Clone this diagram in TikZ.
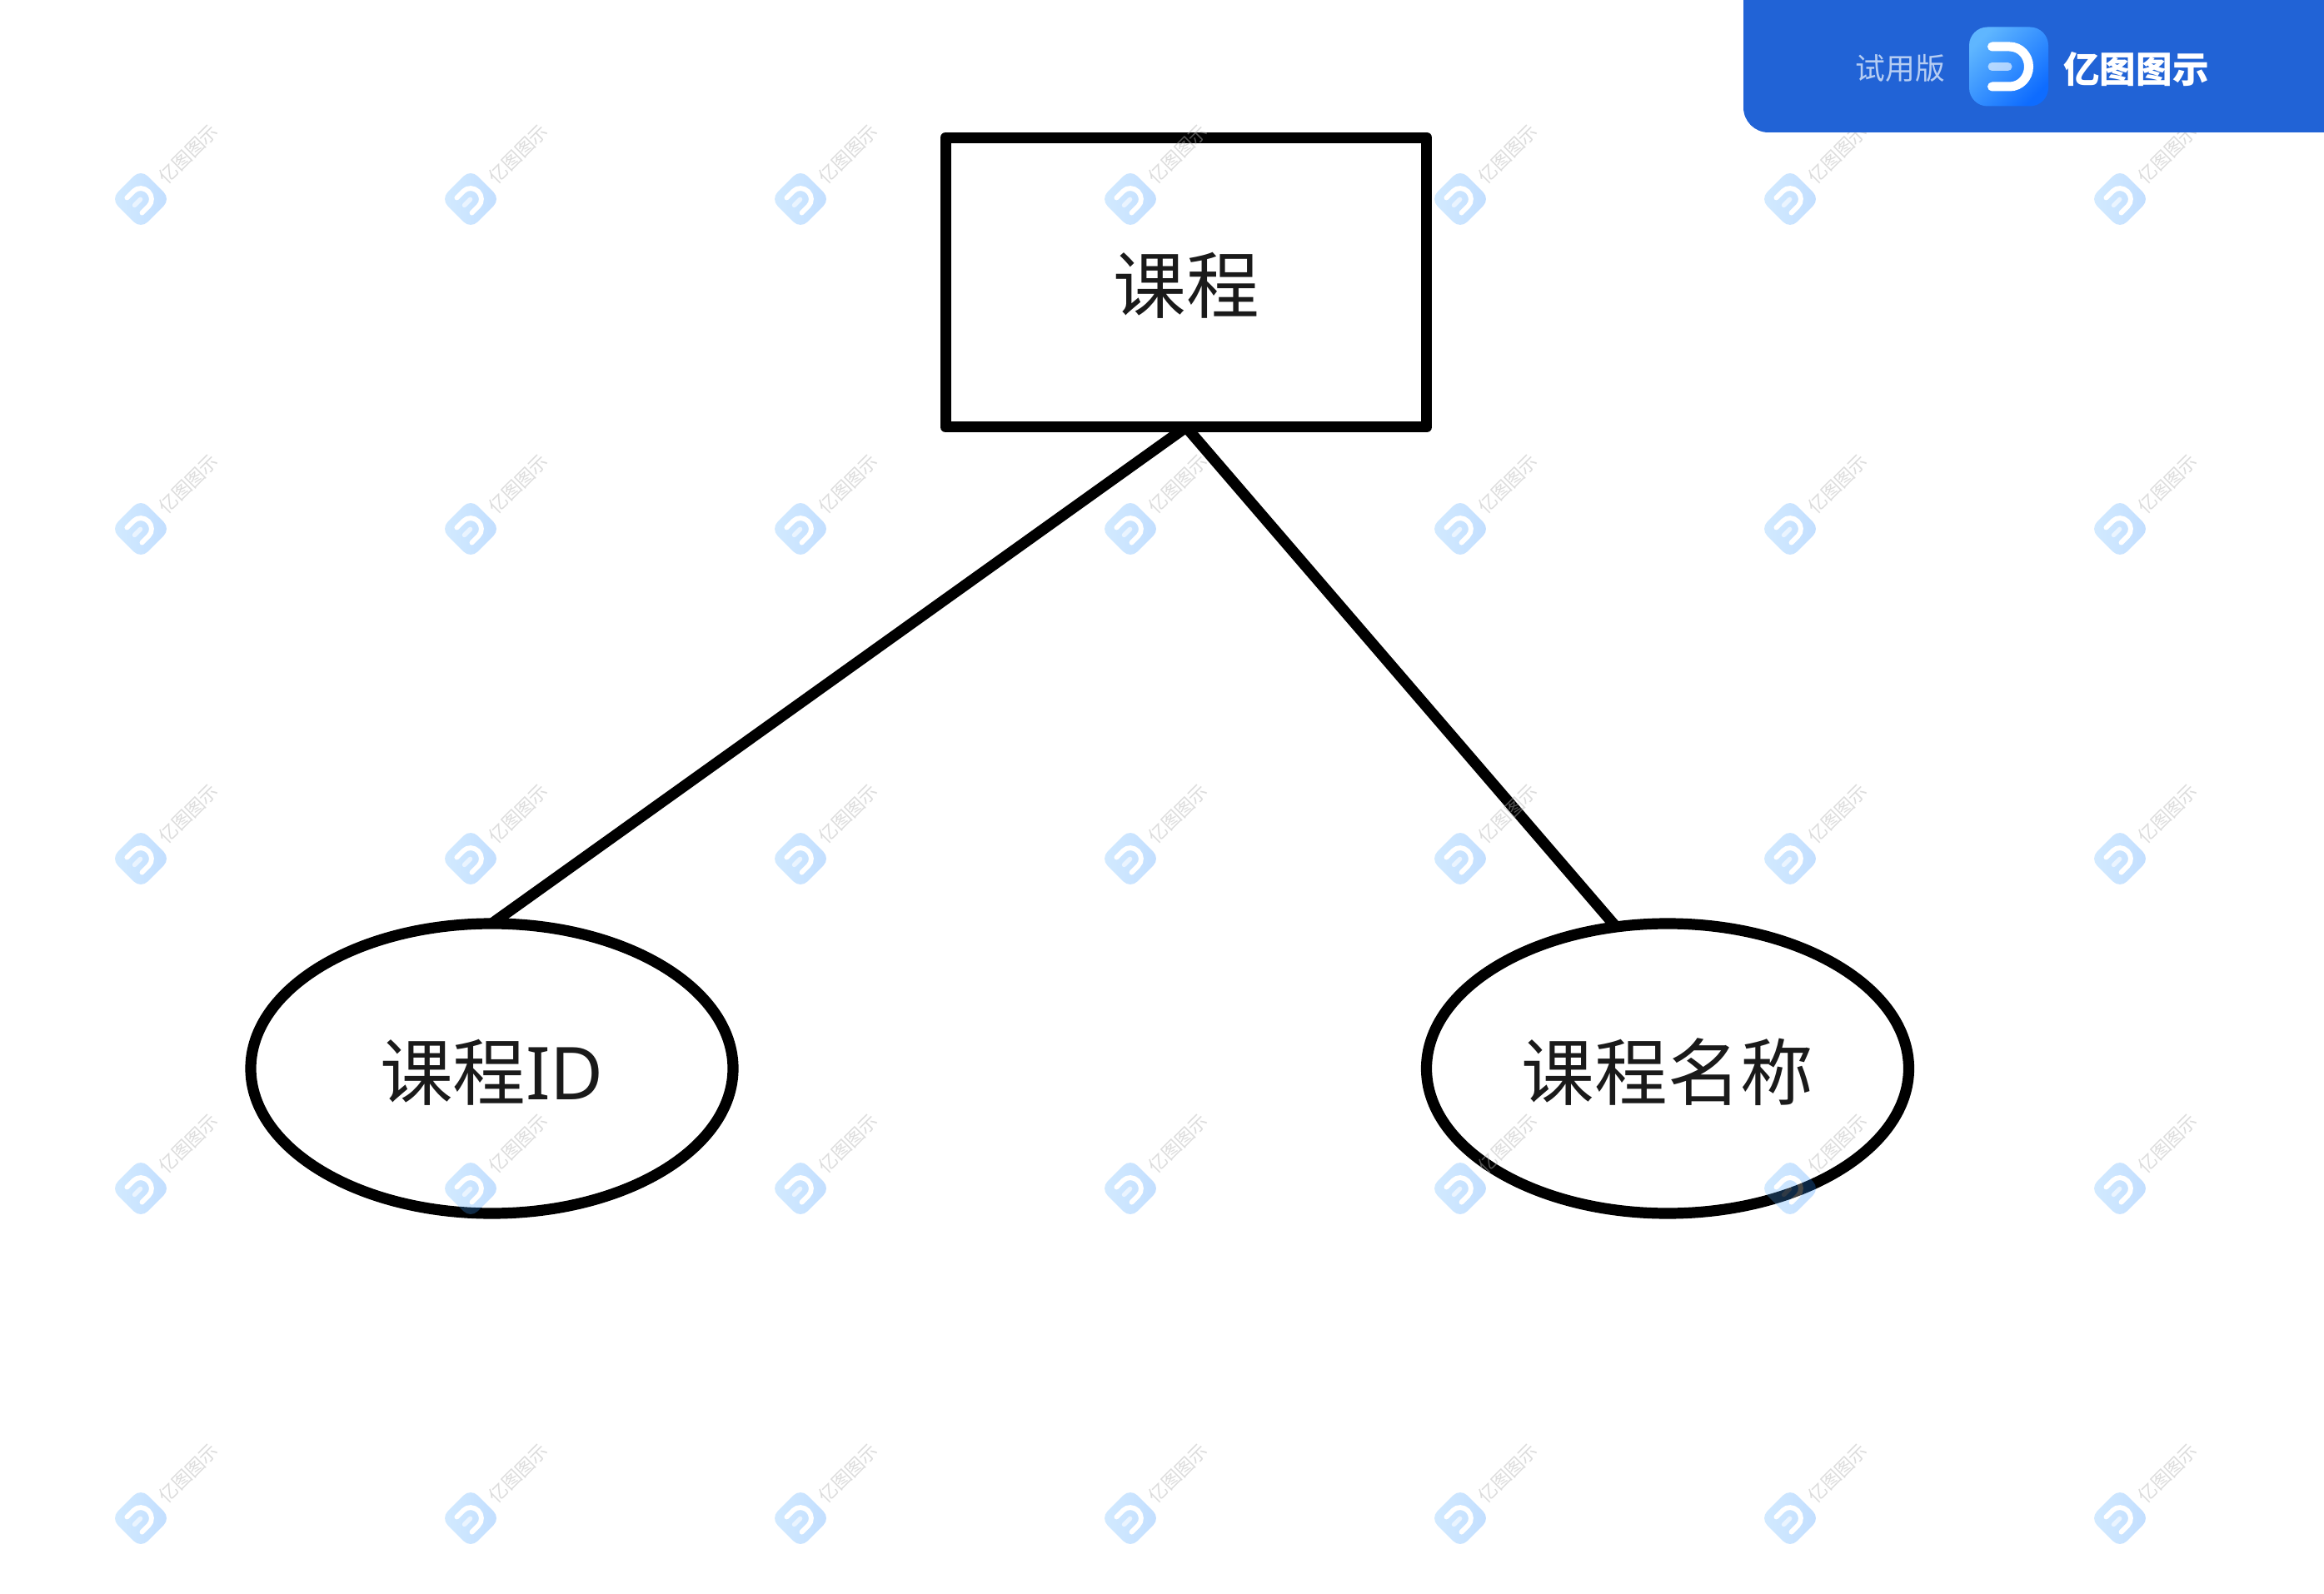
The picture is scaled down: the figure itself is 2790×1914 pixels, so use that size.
\documentclass[tikz,border=0pt]{standalone}
\usepackage{fontspec}
\usetikzlibrary{shapes.geometric}
\setmainfont{Noto Sans CJK SC}
\newfontfamily\latinface{Noto Sans}
\definecolor{inkblack}{HTML}{1A1A1A}
\definecolor{bannerblue}{HTML}{2163D6}
\definecolor{logolight}{HTML}{5FB6FF}
\definecolor{logodark}{HTML}{0E6CFF}
\definecolor{wmdark}{HTML}{1E86FF}
\definecolor{trialtext}{HTML}{B5CDF3}
\definecolor{wmgrey}{HTML}{B2B2B2}
\tikzset{
  shapeline/.style={draw=black,line width=6.6pt,line join=round,inner sep=0pt,outer sep=0pt,
    text=inkblack,font=\fontsize{43.8pt}{46pt}\selectfont,text height=37pt,text depth=0pt},
  entitybox/.style={shapeline,rectangle,minimum width=288.85pt,minimum height=173.85pt},
  attrellipse/.style={shapeline,ellipse,minimum width=289.5pt,minimum height=174pt},
  connector/.style={draw=black,line width=6.6pt},
  wmtext/.style={text=wmgrey,opacity=.45,text opacity=.45,font=\fontsize{11.2pt}{14pt}\selectfont,rotate=45,inner sep=0pt},
}
% logo icon: #1 centre x, #2 centre y (px), #3 scale, #4 rotation, #5 shading angle, #6 dark colour
\newcommand{\logoicon}[6]{%
  \begin{scope}[shift={(#1,#2)},rotate=#4,x=#3*0.5pt,y=-#3*0.5pt]
    \shade[top color=logolight,bottom color=#6,shading angle=#5,rounded corners=#3*11pt]
      (-47.5,-47.5) rectangle (47.5,47.5);
    \draw[white,line width=#3*5.5pt,line cap=round]
      (-20,-24) -- (1,-24) .. controls (14,-24) and (24,-13) .. (24,0)
      .. controls (24,13) and (14,24) .. (1,24) -- (-20,24);
    \draw[white,opacity=.6,line width=#3*5pt,line cap=round] (-20,0) -- (-1,0);
  \end{scope}}
\begin{document}
\begin{tikzpicture}[x=0.5pt,y=-0.5pt]
  \useasboundingbox (0,0) rectangle (2790,1914);
  \fill[white] (0,0) rectangle (2790,1914);

  % diagram
  \node[entitybox] (course) at (1424,339) {课程};
  \node[attrellipse] (cid) at (590.5,1283) {课程{\latinface ID}};
  \node[attrellipse] (cname) at (2002,1283) {课程名称};
  \draw[connector] (course.south) -- (cid.north);
  \draw[connector] (course.south) -- (cname.110);

  % watermark
  \foreach \i in {0,...,6}{
    \foreach \j in {0,...,4}{
      \pgfmathsetmacro{\wx}{169+396*\i}
      \pgfmathsetmacro{\wy}{239+396*\j}
      \begin{scope}[transparency group,opacity=.27]
        \logoicon{\wx}{\wy}{0.533}{45}{90}{wmdark}
      \end{scope}
      \node[wmtext] (wm\i\j) at (\wx+57,\wy-54) {亿图图示};
    }
  }

  % banner
  \fill[bannerblue,rounded corners=15pt] (2093,-60) rectangle (2850,159);
  \node[text=trialtext,font=\fontsize{17.9pt}{20pt}\selectfont,inner sep=0pt] (trial) at (2281.5,82) {试用版};
  \logoicon{2411.5}{80}{1}{0}{45}{logodark}
  \node[text=white,font=\fontsize{21.8pt}{24pt}\selectfont\bfseries,inner sep=0pt] (brand) at (2564.5,83) {亿图图示};
\end{tikzpicture}
\end{document}
